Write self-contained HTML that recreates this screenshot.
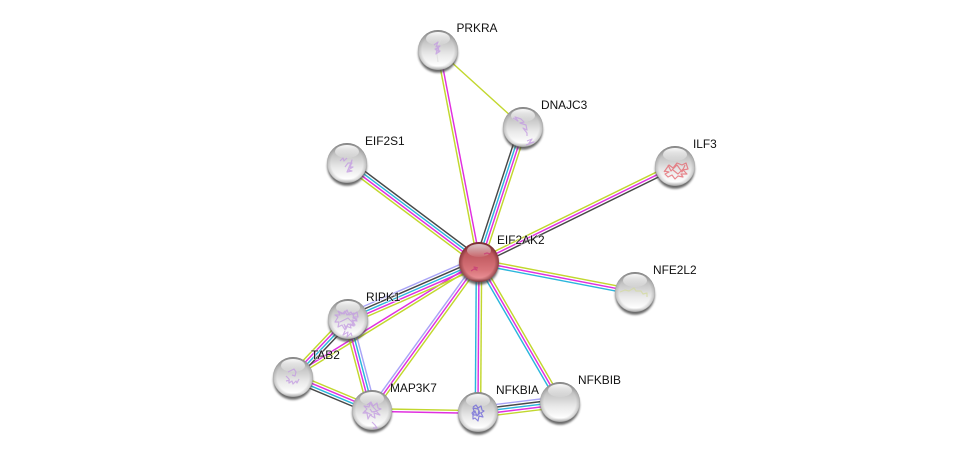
<!DOCTYPE html>
<html><head><meta charset="utf-8"><title>EIF2AK2 network</title>
<style>
html,body{margin:0;padding:0;background:#fff}
svg{display:block}
text{font-family:"Liberation Sans",sans-serif;font-size:11.9px;fill:#111;paint-order:stroke;stroke:rgba(255,255,255,.5);stroke-width:1.5px}
.y{stroke:#c2d72e}.m{stroke:#e02fe0}.c{stroke:#2bb6dc}.k{stroke:#484848}.l{stroke:#a9a4f7}
.e path{fill:none;stroke-width:1.45}
.s{fill:none;stroke-width:1.2;opacity:.75;stroke-linejoin:round;filter:url(#b)}
.f{fill-opacity:.35}
</style></head><body>
<svg width="975" height="457" viewBox="0 0 975 457" xmlns="http://www.w3.org/2000/svg">
<defs>
<filter id="b" x="-20%" y="-20%" width="140%" height="140%"><feGaussianBlur stdDeviation=".35"/></filter>
<filter id="bs" x="-30%" y="-30%" width="160%" height="160%"><feGaussianBlur stdDeviation="1.1"/></filter>
<linearGradient id="g" x1="0" y1="0" x2="0" y2="1"><stop offset="0" stop-color="#8f8f8f"/><stop offset=".25" stop-color="#c0c0c0"/><stop offset=".6" stop-color="#e8e8e8"/><stop offset=".9" stop-color="#ffffff"/><stop offset="1" stop-color="#c8c8c8"/></linearGradient>
<linearGradient id="r" x1="0" y1="0" x2="0" y2="1"><stop offset="0" stop-color="#8c3a40"/><stop offset=".3" stop-color="#bf585e"/><stop offset=".7" stop-color="#d8747a"/><stop offset=".92" stop-color="#ea9095"/><stop offset="1" stop-color="#a85056"/></linearGradient>
<radialGradient id="rim" cx="50%" cy="50%" r="50%"><stop offset=".8" stop-color="#777" stop-opacity="0"/><stop offset=".96" stop-color="#777" stop-opacity=".3"/><stop offset="1" stop-color="#666" stop-opacity=".55"/></radialGradient>
<radialGradient id="rimr" cx="50%" cy="50%" r="50%"><stop offset=".78" stop-color="#602024" stop-opacity="0"/><stop offset="1" stop-color="#602024" stop-opacity=".6"/></radialGradient>
<linearGradient id="h" x1="0" y1="0" x2="0" y2="1"><stop offset="0" stop-color="#fff" stop-opacity=".95"/><stop offset="1" stop-color="#fff" stop-opacity=".1"/></linearGradient>
<g id="n"><circle cx="0" cy="3" r="19.8" fill="#444" opacity=".8" filter="url(#bs)"/><circle r="20" fill="url(#g)"/><circle r="20" fill="url(#rim)"/><ellipse cx="0" cy="-11.5" rx="12" ry="6.5" fill="url(#h)"/></g>
<g id="nr"><circle cx="0" cy="3" r="19.8" fill="#444" opacity=".8" filter="url(#bs)"/><circle r="20" fill="url(#r)"/><circle r="20" fill="url(#rimr)"/><ellipse cx="0" cy="-11.5" rx="12" ry="6.5" fill="url(#h)" opacity=".75"/></g>
</defs>
<rect width="975" height="457" fill="#fff"/>

<path d="M438 50L523 127" stroke="#c2d72e" stroke-width="1.45" fill="none"/>
<g class="e" transform="translate(479 262) rotate(-100.9)"><path class="m" d="M0 1.33H216"/><path class="y" d="M0 -1.33H216"/></g>
<g class="e" transform="translate(479 262) rotate(-71.9)"><path class="k" d="M0 -4H142"/><path class="c" d="M0 -1.33H142"/><path class="m" d="M0 1.33H142"/><path class="y" d="M0 4H142"/></g>
<g class="e" transform="translate(479 262) rotate(-26.1)"><path class="y" d="M0 -2.67H218"/><path class="m" d="M0 0H218"/><path class="k" d="M0 2.67H218"/></g>
<g class="e" transform="translate(479 262) rotate(-143.1)"><path class="k" d="M0 4H165"/><path class="c" d="M0 1.33H165"/><path class="m" d="M0 -1.33H165"/><path class="y" d="M0 -4H165"/></g>
<g class="e" transform="translate(479 262) rotate(10.9)"><path class="y" d="M0 -2.67H159"/><path class="m" d="M0 0H159"/><path class="c" d="M0 2.67H159"/></g>
<g class="e" transform="translate(479 262) rotate(59.9)"><path class="c" d="M0 2.67H162"/><path class="m" d="M0 0H162"/><path class="y" d="M0 -2.67H162"/></g>
<g class="e" transform="translate(479 262) rotate(90.4)"><path class="c" d="M0 2.67H150"/><path class="m" d="M0 0H150"/><path class="y" d="M0 -2.67H150"/></g>
<g class="e" transform="translate(479 262) rotate(125.9)"><path class="l" d="M0 2.67H183"/><path class="m" d="M0 0H183"/><path class="y" d="M0 -2.67H183"/></g>
<g class="e" transform="translate(479 262) rotate(148.3)"><path class="m" d="M0 1.33H219"/><path class="y" d="M0 -1.33H219"/></g>
<g class="e" transform="translate(479 262) rotate(156.5)"><path class="l" d="M0 5.33H143"/><path class="k" d="M0 2.67H143"/><path class="c" d="M0 0H143"/><path class="m" d="M0 -2.67H143"/><path class="y" d="M0 -5.33H143"/></g>
<g class="e" transform="translate(348 319) rotate(133.5)"><path class="y" d="M0 4H80"/><path class="m" d="M0 1.33H80"/><path class="c" d="M0 -1.33H80"/><path class="k" d="M0 -4H80"/></g>
<g class="e" transform="translate(348 319) rotate(75.2)"><path class="y" d="M0 4H94"/><path class="m" d="M0 1.33H94"/><path class="c" d="M0 -1.33H94"/><path class="l" d="M0 -4H94"/></g>
<g class="e" transform="translate(293 377) rotate(22.7)"><path class="y" d="M0 -4H86"/><path class="m" d="M0 -1.33H86"/><path class="c" d="M0 1.33H86"/><path class="k" d="M0 4H86"/></g>
<g class="e" transform="translate(372 410) rotate(1.1)"><path class="y" d="M0 -1.33H106"/><path class="m" d="M0 1.33H106"/></g>
<g class="e" transform="translate(478 412) rotate(-7)"><path class="l" d="M0 -5.33H83"/><path class="k" d="M0 -2.67H83"/><path class="c" d="M0 0H83"/><path class="m" d="M0 2.67H83"/><path class="y" d="M0 5.33H83"/></g>

<use href="#n" x="438" y="50"/>
<path class="s f" fill="#c39ae2" stroke="#c39ae2" d="M434 45l4-3-2 5 4-1-4 4 4 1-4 3 2-8 1 6-4-3 4-1"/>
<path class="s" stroke="#ddd" stroke-width=".8" d="M437 54l1 8M441 39l-3 6"/>
<use href="#n" x="523" y="127"/>
<path class="s" stroke="#c39ae2" d="M513 118l5 3-3-4 6 2 3 3-4 1 6 2 1 5-4-2 4 5 0 3M527 141l5-2-3 4 5-1-8 3"/>
<use href="#n" x="675" y="166"/>
<path class="s f" fill="#e5646c" stroke="#e5646c" d="M664 172l5-7 4 3 4-5 5 2 4-2 2 6-5 1 4 4-6 0 2 3-5-1-3 3-3-4-4 2-3-3 4-2-5-1M668 165l3 6 6-6 5 7 3-7M673 170l5 4 5-5"/>
<use href="#n" x="347" y="163"/>
<path class="s" stroke="#c39ae2" d="M340 161l3-3 1 3 3-3M345 167l3-4 4 0-3 4 4 0-5 3 4 1-5 1 3-7 2-5-2 8"/>
<use href="#nr" x="479" y="262"/>
<path class="s" stroke="#c83a78" stroke-width="1" d="M471 271l3-2 3 1-3-3 4 1M484 254l3-1 3 1"/>
<use href="#n" x="635" y="292"/>
<path class="s" stroke="#d4dba0" stroke-width=".9" d="M620 292l5-2 4 1 5-3 2 3 5 0 2 3 4-1 0 4"/>
<use href="#n" x="348" y="319"/>
<path class="s f" fill="#c39ae2" stroke="#c39ae2" d="M338 311l4 3 3-3 2 4 4-3 2 3 4-3 1 5-4 0 3 4-5-1 3 5-5-1 1 4-5-2-1 4-3-5-4 2 1-5-4 0 3-5-3-2 5 0-2-4 6 3 3-4 2 5 5-2-1 5 4 1-5 3 2 4-6-2-2 5-2-5M345 331l-2 4 5-3-1 5 4-4 1 3M340 322l8-4 6 6"/>
<use href="#n" x="293" y="377"/>
<path class="s" stroke="#c39ae2" d="M286 376l3 3 0 4 3-2 1 3 3-3 1 2 2-4M288 372l6-3 2 3-1 4-3-1M286 381l4-1"/>
<use href="#n" x="372" y="410"/>
<path class="s f" fill="#c39ae2" stroke="#c39ae2" d="M367 405l4-3 2 4 4-3 1 5 3 1-5 2 4 4-6-2 1 5-5-3-2 4-1-6-4 0 4-4-3-3 5 1 1-4 4 5 3 3-5 1-2-3M372 422l3 3 2 3-4 0M364 411l8 4"/>
<use href="#n" x="478" y="412"/>
<path class="s" fill="#6a62d8" fill-opacity=".6" stroke="#6a62d8" stroke-width="1.5" d="M473 407l3-2 2 3 3-2 1 4 2 1-3 2 2 4-4-1-1 5-3-3-2 1 0-4-1-2 2-2-1-3 5 1 2 4-3 3-2-5-2 4 5 0 1-5"/>
<use href="#n" x="560" y="402"/>

<text x="456.5" y="32">PRKRA</text>
<text x="541" y="109">DNAJC3</text>
<text x="693" y="148">ILF3</text>
<text x="365" y="145">EIF2S1</text>
<text x="497" y="244">EIF2AK2</text>
<text x="653" y="274">NFE2L2</text>
<text x="366" y="301">RIPK1</text>
<text x="311" y="359">TAB2</text>
<text x="390" y="392">MAP3K7</text>
<text x="496" y="394">NFKBIA</text>
<text x="578" y="384">NFKBIB</text>
</svg>
</body></html>
